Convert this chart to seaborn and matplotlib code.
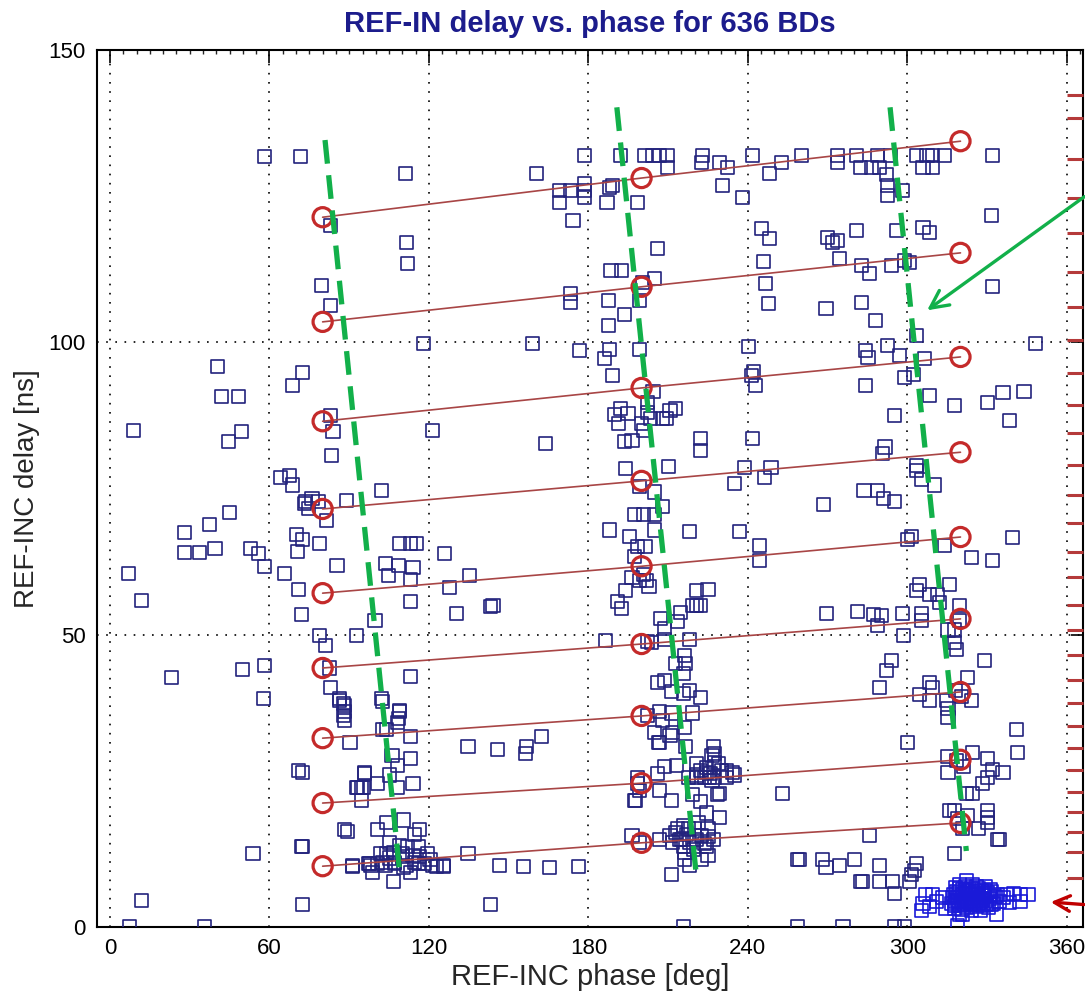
import numpy as np
import pandas as pd
import matplotlib
matplotlib.use("Agg")
import matplotlib.pyplot as plt
from matplotlib.ticker import MultipleLocator
import seaborn as sns

# ---------------- data ----------------
# BD points, phase [deg] / delay [ns], grouped by region
left_phase = [6.8, 8.7, 11.7, 12.0, 7.5, 23.0, 28.2, 28.2, 33.5, 35.7, 37.6, 39.5, 40.3, 42.1, 44.4, 44.8,
              48.2, 49.3, 49.7, 52.7, 53.8, 55.7, 58.3, 57.9, 58.3, 58.3, 64.0, 65.8, 67.7, 68.5, 70.0, 68.8,
              71.5, 72.6, 70.4, 71.1, 71.9, 71.1, 72.2, 72.6, 73.0, 72.6, 73.7, 74.5, 76.0, 78.3, 79.4, 81.3,
              79.0, 79.0, 80.9, 82.4, 82.8, 82.8, 82.8, 83.1, 83.9, 83.5, 85.4, 86.2, 88.0, 88.4, 88.8, 89.2,
              90.3, 91.4, 92.9, 93.3, 94.8, 95.9, 97.1, 98.2, 99.7, 102.0, 102.3, 102.7, 103.5, 103.5, 104.6,
              105.0, 105.3, 106.1, 107.2, 108.4, 108.4, 109.1, 109.1, 109.9, 110.6, 110.6, 111.7, 112.1, 112.9,
              113.2, 112.9, 112.9, 112.9, 114.0, 115.5, 114.4, 114.7, 116.6, 118.1, 118.5, 121.5, 123.0, 125.3,
              125.7, 111.0,
              86.5, 88.4, 87.7, 88.4, 102.7, 109.1, 108.0, 104.2, 72.6, 95.9, 100.5, 92.9, 95.2, 94.8, 108.0,
              112.9, 114.0, 108.0, 88.4, 100.5, 104.2, 116.6, 72.6, 105.3, 109.1, 112.1, 115.9, 101.6, 104.2,
              106.5, 110.2, 114.0, 119.3, 120.4, 91.4, 97.8, 100.5, 102.7, 107.2, 111.7, 115.9, 121.5, 125.3,
              98.6, 112.9, 106.5, 134.7, 146.7]
left_delay = [60.5, 85.0, 55.9, 4.6, 0.0, 42.7, 67.5, 64.0, 64.0, 0.0, 68.9, 64.8, 95.9, 90.8, 83.1, 70.9,
              90.8, 84.8, 44.1, 64.8, 12.6, 63.8, 131.8, 39.0, 44.8, 61.7, 76.9, 60.5, 77.3, 75.6, 67.2, 92.6,
              131.8, 66.2, 64.3, 57.8, 53.5, 26.8, 13.8, 3.8, 72.5, 94.9, 72.8, 71.6, 73.3, 72.8, 109.7, 69.6,
              65.6, 49.9, 48.2, 44.3, 40.9, 120.0, 106.3, 87.5, 84.8, 80.7, 61.9, 39.1, 38.3, 36.8, 73.0, 16.4,
              31.6, 10.4, 49.9, 23.8, 23.9, 26.3, 10.8, 10.6, 52.5, 74.7, 39.1, 33.7, 10.6, 62.1, 60.2,
              11.8, 26.0, 29.4, 11.1, 61.9, 35.7, 65.6, 37.1, 12.1, 10.1, 18.3, 117.1, 113.5, 59.5,
              55.7, 65.6, 42.9, 32.6, 61.5, 65.6, 15.9, 11.1, 12.0, 99.8, 10.8, 85.0, 10.4, 10.4,
              63.9, 128.9,
              38.8, 37.9, 36.2, 35.4, 38.5, 36.8, 34.9, 33.7, 26.5, 26.5, 24.6, 23.8, 23.8, 21.7, 27.7,
              28.9, 24.6, 23.8, 16.6, 16.6, 17.8, 16.6, 13.7, 14.5, 14.0, 13.7, 13.7, 12.6, 12.6,
              12.8, 12.6, 12.3, 12.6, 11.5, 10.6, 10.9, 10.9, 11.1, 10.9, 10.6, 10.9, 10.6, 10.6,
              9.4, 9.4, 7.7, 12.6, 10.6]

mid_phase = [130.2, 134.7, 135.4, 143.3, 143.3, 145.9, 156.5, 156.8, 162.2, 160.6, 158.8, 163.7, 169.3, 169.3,
             173.1, 174.2, 173.4, 173.1, 176.1, 176.8, 186.6, 127.9, 144.1, 155.4, 165.5,
             178.7, 191.9, 201.3, 204.3, 206.9, 209.9, 209.9, 223.1, 222.7, 229.5, 232.5, 241.9, 252.8, 248.3,
             230.3, 238.1, 178.7, 178.7, 178.7, 187.0, 188.1, 189.2, 198.3, 260.3,
             187.4, 187.4, 188.5, 192.6, 193.4, 188.1, 189.2, 199.4, 200.5, 205.0, 206.1, 199.4, 186.2, 190.0,
             191.5, 192.2, 194.9, 193.4, 196.4, 199.8, 200.9, 202.4, 203.2, 207.7, 209.5, 210.7, 212.6, 202.4,
             204.3, 193.8, 199.4, 205.0, 200.9, 205.0, 197.5, 208.0, 210.0, 222.0, 222.3, 188.1, 195.6, 198.6,
             201.3, 205.0, 218.2, 197.5, 200.9, 202.0, 202.8, 191.1, 193.8, 196.4, 199.4, 208.8, 207.3, 192.6,
             202.4, 203.9, 218.2, 216.3, 215.9, 216.7, 206.1, 208.8, 211.4, 212.6, 218.2, 215.9, 222.0, 206.5,
             210.7, 204.7, 216.3, 216.7, 206.9, 202.4, 208.0, 226.9, 226.5, 227.3, 222.0, 225.8, 224.6, 230.0,
             231.8, 235.1, 220.8, 228.8, 234.4, 226.5, 229.5, 222.0, 228.4, 229.5, 206.9, 208.8, 206.1, 199.4,
             197.9, 211.4, 253.2, 238.9, 244.5, 244.5, 237.0, 235.1, 246.3, 241.9, 248.7, 241.5, 242.3, 242.7,
             240.4, 247.9, 246.8, 246.0, 248.3, 245.3, 220.5, 222.0, 219.0, 214.8, 213.7, 208.8, 220.8, 225.0,
             196.4, 199.4, 206.9, 210.7, 212.6, 213.7, 215.6, 217.5, 220.1, 225.0, 224.6, 222.7, 225.0, 226.9,
             211.8, 215.2, 216.3, 218.2, 220.8, 224.6, 225.0, 222.7, 218.2, 211.4, 214.4, 215.6, 217.0, 219.5,
             221.5, 223.5, 216.0,
             198.3, 198.6, 197.5, 213.3, 220.8, 217.5, 220.8, 223.8, 225.7, 227.6, 232.1, 224.6, 227.6, 206.9,
             211.8, 211.4, 219.0, 258.8, 219.0, 215.6, 258.8]
mid_delay = [53.7, 30.8, 60.2, 54.9, 3.8, 30.3, 29.7, 30.9, 32.6, 128.9, 99.8, 82.7, 123.9, 126.0,
             126.0, 120.9, 106.8, 108.4, 10.4, 98.6, 49.0, 58.0, 55.0, 10.4, 10.1,
             132.0, 132.0, 132.0, 132.0, 132.0, 132.0, 129.9, 132.0, 130.8, 130.8, 129.9, 132.0, 130.8, 128.9,
             126.8, 124.8, 127.2, 126.0, 124.8, 123.9, 126.5, 126.8, 123.9, 132.0,
             102.9, 107.2, 112.3, 112.3, 104.8, 98.8, 94.4, 107.2, 110.3, 110.9, 116.1, 98.8, 97.3, 87.7,
             86.2, 88.7, 87.9, 83.1, 83.2, 86.2, 85.0, 89.7, 87.0, 87.0, 87.0, 88.4, 88.7, 88.0,
             91.6, 78.5, 75.4, 74.4, 70.6, 70.6, 70.6, 72.0, 78.8, 83.6, 81.5, 67.9, 66.8, 65.1,
             65.1, 67.9, 67.7, 63.4, 60.3, 59.3, 58.3, 55.7, 57.6, 59.7, 59.3, 51.1, 52.8, 54.5,
             48.9, 48.7, 49.1, 46.5, 43.4, 45.1, 41.9, 42.2, 40.2, 45.1, 40.5, 40.0, 39.3, 31.6,
             32.8, 33.3, 34.2, 30.8, 36.8, 36.1, 35.4, 30.8, 29.4, 28.2, 26.8, 26.3, 27.2, 26.8,
             26.8, 26.0, 26.0, 28.0, 26.5, 25.1, 22.9, 21.4, 22.6, 18.8, 23.4, 27.5, 26.3, 23.4,
             21.7, 21.7, 22.9, 78.6, 65.3, 62.7, 67.7, 75.9, 76.8, 83.6, 78.6, 94.4, 95.0, 92.6,
             99.3, 106.7, 110.0, 113.8, 117.8, 119.5, 55.0, 55.0, 55.0, 53.8, 52.3, 49.2, 57.6, 57.8,
             15.7, 14.4, 14.9, 15.7, 16.1, 16.9, 17.4, 16.9, 16.9, 16.9, 19.5, 15.7, 15.4, 14.9,
             14.4, 14.9, 12.8, 14.4, 14.9, 13.7, 12.3, 11.5, 10.6, 8.9, 14.9, 13.7, 15.8, 13.2,
             17.8, 14.2, 11.6,
             25.6, 24.6, 21.7, 27.7, 28.0, 25.5, 25.6, 25.6, 25.6, 25.5, 25.5, 26.5, 29.7, 31.6,
             33.3, 36.6, 36.6, 11.5, 22.6, 0.0, 0.0]

right_phase = [273.9, 273.9, 281.0, 282.2, 286.7, 288.9, 289.7, 292.3, 292.7, 292.7, 293.5, 298.3, 303.6, 307.4,
               309.6, 314.1, 305.9, 309.3, 332.2, 331.8, 281.0, 296.1, 305.9, 308.5, 332.2, 270.1, 272.0, 274.6,
               273.9, 282.9, 285.9, 288.2, 294.2, 299.1, 301.0, 269.4, 282.9, 284.4, 285.2, 284.1, 292.7, 297.2,
               303.6, 306.6, 299.1, 302.5, 295.3, 290.5, 291.6, 308.5, 317.9, 330.0, 336.0, 343.9, 348.4, 338.6,
               303.3, 303.6, 305.5, 310.4, 283.7, 288.6, 290.9, 295.3, 268.6, 269.7, 303.6, 300.2, 301.7, 314.1,
               324.3, 332.2, 339.4, 281.4, 287.4, 290.1, 288.6, 298.7,
               304.7, 316.0, 308.5, 311.5, 319.8, 298.3, 305.5, 305.5, 315.3, 317.9, 317.9, 319.8, 312.0, 318.5,
               294.2, 292.3, 289.7, 308.5, 309.3, 304.7, 308.5, 314.9, 315.3, 315.3, 322.8, 324.3, 329.2, 300.2,
               318.0, 320.5,
               315.3, 315.3, 324.7, 330.0, 336.0, 330.0, 328.4, 322.4, 324.7, 341.2, 341.6, 334.8, 318.5, 321.0,
               332.0,
               316.0, 317.9, 330.0, 330.0, 330.0, 326.6, 320.9, 319.0, 322.5,
               274.6, 289.7, 303.6, 302.8, 301.7, 283.3, 289.7, 294.6, 295.3, 301.0, 317.9, 334.1, 285.9, 259.6,
               269.4, 267.9, 280.3, 282.2, 275.8, 295.3, 299.1]
right_delay = [132.0, 130.8, 132.0, 129.9, 129.9, 132.0, 129.9, 128.7, 126.8, 125.1, 132.0, 126.0, 132.0, 132.0,
               132.0, 132.0, 129.9, 129.9, 132.0, 121.7, 119.1, 119.1, 119.7, 118.8, 109.6, 118.0, 117.0, 114.4,
               117.4, 113.2, 111.8, 103.8, 113.2, 114.0, 113.7, 105.8, 106.8, 98.6, 97.4, 92.6, 99.5, 97.8,
               101.2, 97.3, 94.0, 94.5, 87.5, 81.0, 82.1, 90.9, 89.2, 89.7, 91.5, 91.6, 99.8, 86.7,
               79.0, 78.0, 76.6, 75.6, 74.7, 74.7, 73.3, 72.8, 72.3, 53.7, 57.6, 66.2, 66.8, 65.3,
               63.2, 62.7, 66.7, 54.0, 53.5, 53.3, 51.6, 49.9,
               58.5, 58.5, 56.8, 56.8, 55.0, 53.7, 53.7, 52.5, 50.8, 50.8, 48.7, 52.5, 55.5, 47.5,
               45.6, 43.9, 41.0, 41.9, 40.9, 39.7, 38.8, 38.8, 37.4, 35.9, 42.7, 38.8, 45.6, 31.6,
               40.5, 39.5,
               29.1, 26.5, 29.9, 28.9, 26.5, 25.6, 24.6, 22.9, 22.9, 33.7, 29.9, 14.9, 28.5, 27.5,
               27.0,
               20.0, 20.0, 20.0, 18.8, 17.9, 16.9, 16.9, 18.5, 19.0,
               10.6, 10.6, 10.9, 9.7, 8.9, 7.7, 7.7, 7.7, 5.8, 7.7, 12.6, 14.9, 15.7, 11.5,
               10.1, 11.5, 11.5, 7.7, 0.0, 0.0, 0.0]

cluster_phase = [345.4, 342.4, 342.4, 337.5, 334.0, 309.3, 305.9, 305.5, 313.4, 322.4, 319.8, 324.7, 319.0, 320.9,
                 333.7, 319.8, 316.5, 317.2, 317.8, 318.4, 318.9, 319.5, 320.0, 320.6, 321.1, 321.7, 322.2, 322.8,
                 323.3, 323.9, 324.4, 325.0, 325.6, 326.1, 326.7, 327.2, 327.8, 328.3, 328.9, 329.4, 330.0, 330.6,
                 331.1, 331.7, 332.3, 333.0, 334.8, 336.2, 338.5, 340.0, 320.3, 324.0, 327.5, 318.0, 322.0, 326.0,
                 329.5, 307.0, 311.0, 314.5, 308.5,
                 317.0, 318.2, 319.3, 320.4, 321.4, 322.5, 323.6, 324.6, 325.3, 326.4, 327.6, 328.6, 329.8, 330.9,
                 317.6, 319.0, 320.8, 322.4, 323.9, 325.2, 326.9, 328.1, 329.2, 331.5, 319.6, 321.9, 324.2, 326.6,
                 328.9, 331.2]
cluster_delay = [5.5, 5.5, 4.3, 5.5, 5.5, 5.5, 4.1, 2.9, 5.0, 8.0, 7.2, 7.2, 0.3, 2.1,
                 2.1, 2.1, 4.0, 5.6, 3.2, 6.1, 4.6, 3.6, 5.2, 6.4, 4.1, 5.7, 3.4, 4.9,
                 6.2, 3.9, 5.4, 4.4, 6.0, 3.5, 5.1, 4.2, 6.3, 3.7, 5.3, 4.6, 5.9, 3.3,
                 4.8, 6.0, 4.0, 5.2, 4.4, 5.0, 4.2, 5.8, 3.0, 2.8, 2.9, 6.8, 7.0, 6.9,
                 7.0, 5.6, 4.4, 3.2, 3.5,
                 5.0, 4.3, 5.9, 4.7, 3.8, 6.1, 4.5, 5.8, 3.9, 5.5, 4.9, 5.7, 3.9, 5.4,
                 3.6, 5.0, 5.5, 4.2, 4.8, 5.6, 4.0, 4.6, 5.8, 3.8, 6.5, 6.4, 6.6, 6.5,
                 6.2, 6.4]

# fitted red lines: circles at three phases, nine delay families
circle_phase = [80, 200, 320]
line_delays = [
    [10.4, 14.4, 17.8],
    [21.2, 24.6, 28.6],
    [32.3, 36.1, 40.2],
    [44.3, 48.4, 52.7],
    [57.1, 61.7, 66.7],
    [71.5, 76.3, 81.2],
    [86.5, 92.2, 97.5],
    [103.5, 109.5, 115.3],
    [121.4, 128.1, 134.4],
]

# red tick marks along the right edge
red_tick_delay = [142.3, 138.4, 131.3, 124.7, 118.7, 112.0, 106.0, 100.4, 94.7, 89.3, 84.5, 79.0, 73.9,
                  69.1, 64.1, 59.9, 55.1, 50.8, 46.5, 42.3, 38.3, 34.3, 30.6, 26.9, 23.1, 19.7, 16.2,
                  12.8, 8.4]
red_tick_phase = 363.2

# green dashed guide lines (start, end)
green_phase = [[80.9, 109.1], [190.7, 220.8], [293.5, 322.2]]
green_delay = [[134.6, 8.9], [140.2, 8.0], [140.2, 13.0]]

# arrows (tail -> head)
green_arrow = dict(tail=(367.5, 125.2), head=(306.6, 105.2))
red_arrow = dict(tail=(367.5, 3.8), head=(352.9, 4.3))

xticks = [0, 60, 120, 180, 240, 300, 360]
yticks = [0, 50, 100, 150]

# ---------------- dataframes ----------------
pts = pd.DataFrame({
    "phase": left_phase + mid_phase + right_phase,
    "delay": left_delay + mid_delay + right_delay,
})
dense = pd.DataFrame({"phase": cluster_phase, "delay": cluster_delay})
rows = []
for i, dl in enumerate(line_delays):
    for ph, d in zip(circle_phase, dl):
        rows.append({"line": i, "phase": ph, "delay": d})
fits = pd.DataFrame(rows)

# ---------------- figure ----------------
sns.set_theme(style="white")
plt.rcParams["font.family"] = ["Liberation Sans", "DejaVu Sans"]

W, H = 1085, 997
fig = plt.figure(figsize=(W / 100, H / 100), dpi=100)
ax = fig.add_axes([97 / W, 70 / H, (1083 - 97) / W, (927 - 50) / H])

navy = "#23237d"
sns.scatterplot(data=pts, x="phase", y="delay", marker="s", s=88, facecolors="none",
                edgecolor=navy, linewidth=1.2, ax=ax, zorder=3, legend=False)
sns.scatterplot(data=dense, x="phase", y="delay", marker="s", s=88, facecolors="none",
                edgecolor="#1a1ad8", linewidth=1.2, ax=ax, zorder=3, legend=False)

sns.lineplot(data=fits, x="phase", y="delay", units="line", estimator=None, sort=False,
             color="#a84545", lw=1.2, ax=ax, zorder=4, legend=False)
sns.scatterplot(data=fits, x="phase", y="delay", marker="o", s=190, facecolors="none",
                edgecolor="#c42a2a", linewidth=2.3, ax=ax, zorder=5, legend=False)

# red ticks at right edge
ax.scatter([red_tick_phase] * len(red_tick_delay), red_tick_delay, marker="_", s=130,
           color="#b53a3a", linewidths=2.2, zorder=6, clip_on=False)

# green dashed guides
for gp, gd in zip(green_phase, green_delay):
    ax.plot(gp, gd, color="#12b04a", lw=3.8, dashes=(4.5, 2.2), zorder=7, solid_capstyle="butt",
            dash_capstyle="butt")

ax.annotate("", xy=green_arrow["head"], xytext=green_arrow["tail"],
            arrowprops=dict(arrowstyle="->", color="#12b04a", lw=2.4, mutation_scale=32),
            annotation_clip=False, zorder=8)
ax.annotate("", xy=red_arrow["head"], xytext=red_arrow["tail"],
            arrowprops=dict(arrowstyle="->", color="#c00000", lw=2.4, mutation_scale=28),
            annotation_clip=False, zorder=8)

# axes styling
ax.set_xlim(-4.9, 366.1)
ax.set_ylim(0, 150)
ax.set_xticks(xticks)
ax.set_yticks(yticks)
ax.xaxis.set_minor_locator(MultipleLocator(5))
ax.grid(True, which="major", color="black", linestyle=(0, (1, 4.5)), lw=1.2)
ax.set_axisbelow(True)
ax.tick_params(which="major", direction="in", length=9, width=1.2, top=True, right=True,
               labelsize=16, colors="black", pad=8)
ax.tick_params(which="minor", direction="in", length=3, width=1.0, top=True, bottom=False)
for s in ax.spines.values():
    s.set_color("black")
    s.set_linewidth(1.5)

ax.set_xlabel("REF-INC phase [deg]", fontsize=21, labelpad=3)
ax.set_ylabel("REF-INC delay [ns]", fontsize=20, labelpad=6)
ax.set_title("REF-IN delay vs. phase for 636 BDs", fontsize=21, fontweight="bold",
             color="#1c1c8c", pad=13)

fig.savefig("out.png", dpi=100)
